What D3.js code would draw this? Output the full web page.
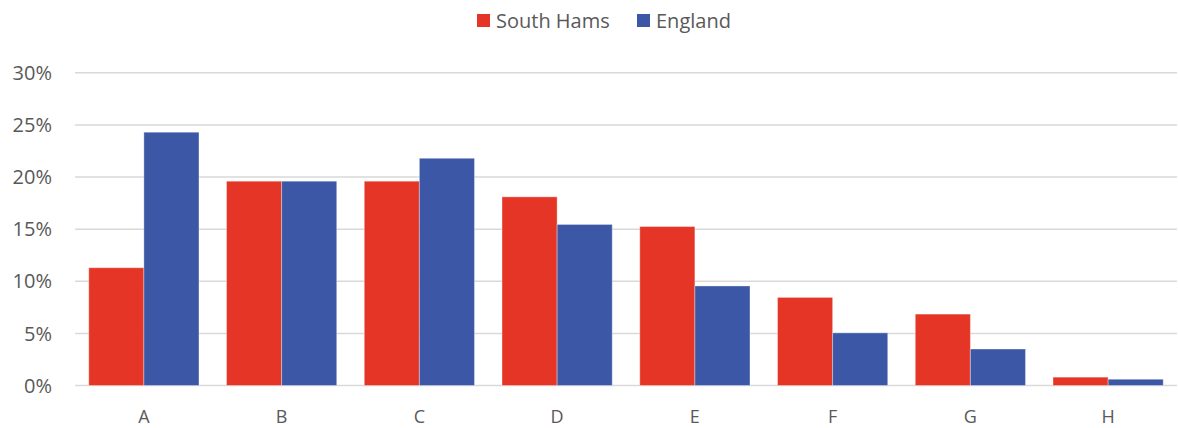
<!DOCTYPE html>
<html>
<head>
<meta charset="utf-8">
<script src="https://cdn.jsdelivr.net/npm/d3@7"></script>
<style>
  html, body { margin: 0; padding: 0; background: #fff; }
  svg { display: block; }
  text { font-family: "Open Sans", "Noto Sans", sans-serif; fill: #595959; }
</style>
</head>
<body>
<svg id="chart" width="1178" height="428"></svg>
<script>
const categories = ["A", "B", "C", "D", "E", "F", "G", "H"];
const seriesNames = ["South Hams", "England"];
const southHams = [11.3, 19.6, 19.6, 18.1, 15.25, 8.45, 6.85, 0.8];
const england = [24.3, 19.6, 21.8, 15.45, 9.55, 5.05, 3.5, 0.6];
const yTicks = [0, 5, 10, 15, 20, 25, 30];
const colors = ["#E43526", "#3C57A5"];

const svg = d3.select("#chart");
const plotLeft = 75, plotRight = 1177, plotTop = 72.8, plotBottom = 385.5;

const x = d3.scaleBand().domain(categories).range([plotLeft, plotRight]).paddingInner(0.2).paddingOuter(0.1);
const xs = d3.scaleBand().domain(seriesNames).range([0, x.bandwidth()]);
const y = d3.scaleLinear().domain([0, 30]).range([plotBottom, plotTop]);

// gridlines
svg.append("g").selectAll("line").data(yTicks).join("line")
  .attr("x1", plotLeft).attr("x2", plotRight)
  .attr("y1", d => y(d)).attr("y2", d => y(d))
  .attr("stroke", "#d9d9d9").attr("stroke-width", 1.5);

// y labels
svg.append("g").selectAll("text").data(yTicks).join("text")
  .attr("x", 52).attr("y", d => y(d)).attr("dy", "0.36em")
  .attr("text-anchor", "end").attr("font-size", 20)
  .text(d => d + "%");

// bars
const data = [southHams, england];
seriesNames.forEach((s, si) => {
  svg.append("g").selectAll("rect").data(categories).join("rect")
    .attr("x", c => x(c) + xs(s))
    .attr("y", (c, i) => y(data[si][i]))
    .attr("width", xs.bandwidth())
    .attr("height", (c, i) => y(0) - y(data[si][i]))
    .attr("fill", colors[si])
    .attr("stroke", "rgba(255,255,255,0.35)")
    .attr("stroke-width", 1);
});

// x labels
svg.append("g").selectAll("text").data(categories).join("text")
  .attr("x", c => x(c) + x.bandwidth() / 2).attr("y", 423)
  .attr("text-anchor", "middle").attr("font-size", 18)
  .text(c => c);

// legend
const legendPos = [477, 637];
const lg = svg.append("g");
seriesNames.forEach((s, si) => {
  lg.append("rect").attr("x", legendPos[si]).attr("y", 14).attr("width", 13).attr("height", 13).attr("fill", colors[si]);
  lg.append("text").attr("x", legendPos[si] + 19).attr("y", 28).attr("font-size", 20).text(s);
});
</script>
</body>
</html>
